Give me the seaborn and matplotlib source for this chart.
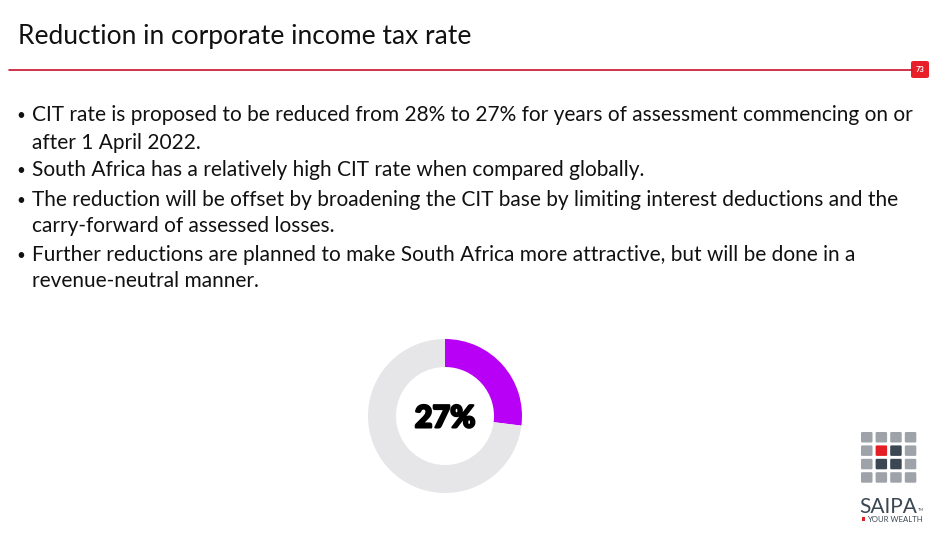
import matplotlib
matplotlib.use("Agg")
import matplotlib.pyplot as plt
from matplotlib.patches import FancyBboxPatch
import matplotlib.patheffects as pe
import seaborn as sns

# data
labels = ["CIT rate", "Remainder"]
values = [27, 73]
centre_label = "27%"
title = "Reduction in corporate income tax rate"
page_no = "73"
bullets = [
    ["CIT rate is proposed to be reduced from 28% to 27% for years of assessment commencing on or",
     "after 1 April 2022."],
    ["South Africa has a relatively high CIT rate when compared globally."],
    ["The reduction will be offset by broadening the CIT base by limiting interest deductions and the",
     "carry-forward of assessed losses."],
    ["Further reductions are planned to make South Africa more attractive, but will be done in a",
     "revenue-neutral manner."],
]
baselines = [121, 149, 176, 206, 232, 261, 287]

sns.set_theme(style="white")
plt.rcParams["font.family"] = ["Lato", "DejaVu Sans"]

W, H = 947, 535
fig = plt.figure(figsize=(W / 100, H / 100), dpi=100)
fig.patch.set_facecolor("white")


def px(x, y):
    return x / W, 1 - y / H


# title and red rule
fig.text(*px(18, 44), title, fontsize=19, color="#111111", va="baseline")
fig.add_artist(plt.Line2D([9 / W, 912 / W], [1 - 69.5 / H] * 2, color="#C8102E", lw=1.2))
badge = FancyBboxPatch(px(911, 78), 18 / W, 17 / H, boxstyle="round,pad=0,rounding_size=0.003",
                       transform=fig.transFigure, facecolor="#E8202A", edgecolor="none")
fig.add_artist(badge)
fig.text(*px(920, 70), page_no, fontsize=5.5, color="white", weight="bold", ha="center", va="center")

# bullets
i = 0
for item in bullets:
    fig.text(*px(21, baselines[i] - 1), "\u2022", fontsize=11, color="#111111", ha="center", va="baseline")
    for line in item:
        fig.text(*px(32, baselines[i]), line, fontsize=15, color="#111111", va="baseline")
        i += 1

# donut
R = 80
ax = fig.add_axes([(445 - R) / W, (H - 416 - R) / H, 2 * R / W, 2 * R / H])
colors = ["#B900F6", "#E6E6E8"]
ax.pie(values, labels=None, colors=colors, startangle=90, counterclock=False,
       radius=77 / R, wedgeprops=dict(width=28 / R, edgecolor="none"))
ax.set_xlim(-1, 1)
ax.set_ylim(-1, 1)
ax.set_aspect("equal")
ax.axis("off")
ax.text(0, -0.03, centre_label, ha="center", va="center", fontsize=22, weight="black", color="black",
        path_effects=[pe.withStroke(linewidth=1.6, foreground="black")])

# logo
lax = fig.add_axes([855 / W, (H - 530) / H, 75 / W, 105 / H])
lax.set_xlim(855, 930)
lax.set_ylim(530, 425)
lax.axis("off")
grid_colors = {(1, 1): "#E31E24", (1, 2): "#3B4752", (2, 1): "#3B4752", (2, 2): "#3B4752"}
for r in range(4):
    for c in range(4):
        col = grid_colors.get((r, c), "#9DA3A8")
        lax.add_patch(FancyBboxPatch((861 + c * 14.6, 432 + r * 13.4), 11.5, 10.5,
                                     boxstyle="round,pad=0,rounding_size=1.2",
                                     facecolor=col, edgecolor="none"))
lax.text(888, 507, "SAIPA", ha="center", va="center", fontsize=15, color="#3B4752")
lax.text(918, 510, "TM", ha="left", va="center", fontsize=2.8, color="#3B4752")
lax.add_patch(plt.Rectangle((861.5, 517.5), 3.2, 3.2, facecolor="#E31E24", edgecolor="none"))
lax.text(867, 519.3, "YOUR WEALTH", ha="left", va="center", fontsize=5.6, color="#3B4752")

fig.savefig("out.png", dpi=100, facecolor="white")
